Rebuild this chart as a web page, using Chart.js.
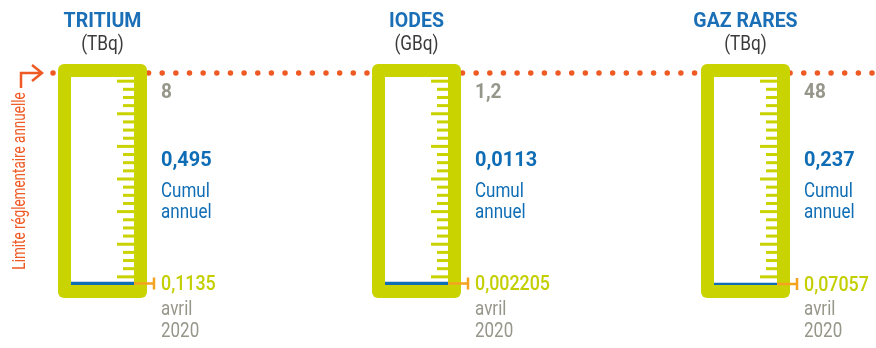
<!DOCTYPE html>
<html>
<head>
<meta charset="utf-8">
<script src="https://cdn.jsdelivr.net/npm/chart.js@4.4.1/dist/chart.umd.min.js"></script>
<style>
  body { margin: 0; background: #fff; }
  #wrap { position: relative; width: 876px; height: 348px; overflow: hidden; }
  #wrap canvas { position: absolute; top: 0; }
</style>
</head>
<body>
<div id="wrap">
  <canvas id="g0" width="300" height="348" style="left:0px"></canvas>
  <canvas id="g1" width="340" height="348" style="left:300px"></canvas>
  <canvas id="g2" width="236" height="348" style="left:640px"></canvas>
</div>
<script>
// --- data ---
const gauges = ['TRITIUM', 'IODES', 'GAZ RARES'];
const units = ['(TBq)', '(GBq)', '(TBq)'];
const limits = [8, 1.2, 48];
const cumulValues = [0.495, 0.0113, 0.237];
const aprilValues = [0.1135, 0.002205, 0.07057];
const cumulLabel = ['Cumul', 'annuel'];
const periodLabel = ['avril', '2020'];
const limitLabel = 'Limite réglementaire annuelle';
const rulerSteps = 26;

// --- layout / styles ---
const boxes = [
  { left: 0, pad: { left: 71, right: 166 }, minBar: 3 },
  { left: 300, pad: { left: 85, right: 192 }, minBar: 3 },
  { left: 640, pad: { left: 74, right: 99 }, minBar: 2 }
];
const FRAME = '#c9d300';
const BLUE = '#0f6db5';
const RED = '#ef5a24';
const ORANGE = '#f5a21e';
const GRAY = '#96968a';
const DARK = '#3a3a3a';
const FONT = 'Roboto, "Open Sans", sans-serif';

function fmt(v) { return String(v).replace('.', ','); }

function txt(ctx, s, x, y, font, color, align, sx) {
  ctx.save();
  ctx.font = font;
  ctx.fillStyle = color;
  ctx.textAlign = align || 'left';
  ctx.textBaseline = 'alphabetic';
  ctx.translate(x, y);
  ctx.scale(sx || 1, 1);
  ctx.fillText(s, 0, 0);
  ctx.restore();
}

const gaugePlugin = {
  id: 'gauge',
  beforeDatasetsDraw(chart) {
    const { ctx, chartArea: a, scales: { y } } = chart;
    const i = chart.options.plugins.gauge.index;
    const T = y.getPixelForValue(limits[i]);
    const B = y.getPixelForValue(0);

    // dotted limit line
    ctx.save();
    ctx.strokeStyle = RED;
    ctx.lineWidth = 5.5;
    ctx.lineCap = 'round';
    ctx.setLineDash([0, 13.65]);
    ctx.beginPath();
    ctx.moveTo(53 - boxes[i].left, T);
    ctx.lineTo(chart.width + 6, T);
    ctx.stroke();
    ctx.restore();

    // frame
    ctx.save();
    ctx.fillStyle = FRAME;
    ctx.beginPath();
    ctx.roundRect(a.left - 13, T - 9, a.right - a.left + 26, B + 13 - (T - 9), 6);
    ctx.fill();
    ctx.fillStyle = '#fff';
    ctx.fillRect(a.left, T + 4, a.right - a.left, B - T - 4);

    // ruler ticks
    ctx.fillStyle = FRAME;
    for (let k = 1; k < rulerSteps; k++) {
      const py = y.getPixelForValue(limits[i] * k / rulerSteps);
      const len = (k - 1) % 4 === 0 ? 17 : 11;
      ctx.fillRect(a.right - len, py - 1.5, len, 3);
    }
    ctx.restore();
  },
  afterDatasetsDraw(chart) {
    const { ctx, chartArea: a, scales: { y } } = chart;
    const i = chart.options.plugins.gauge.index;
    const T = y.getPixelForValue(limits[i]);
    const B = y.getPixelForValue(0);
    const bar = chart.getDatasetMeta(0).data[0];
    const my = (bar.y + bar.base) / 2;
    const cx = (a.left + a.right) / 2;
    const tx = a.right + 27;

    // orange marker on the monthly value
    ctx.save();
    ctx.strokeStyle = ORANGE;
    ctx.lineWidth = 2.5;
    ctx.beginPath();
    ctx.moveTo(a.right, my);
    ctx.lineTo(a.right + 20, my);
    ctx.moveTo(a.right + 20, my - 6);
    ctx.lineTo(a.right + 20, my + 6);
    ctx.stroke();
    ctx.restore();

    // titles
    txt(ctx, gauges[i], cx, T - 46, 'bold 21px ' + FONT, '#1a6fb6', 'center', 0.93);
    txt(ctx, units[i], cx, T - 23, '20px ' + FONT, DARK, 'center', 0.86);

    // right labels
    txt(ctx, fmt(limits[i]), tx, T + 25, 'bold 20px ' + FONT, GRAY, 'left', 0.95);
    txt(ctx, fmt(cumulValues[i]), tx, T + 93, 'bold 21px ' + FONT, BLUE, 'left', 0.95);
    txt(ctx, cumulLabel[0], tx, T + 124, '21px ' + FONT, BLUE, 'left', 0.81);
    txt(ctx, cumulLabel[1], tx, T + 145, '21px ' + FONT, BLUE, 'left', 0.81);
    txt(ctx, fmt(aprilValues[i]), tx, my + 6.5, '500 21px ' + FONT, '#c3cf00', 'left', 0.85);
    txt(ctx, periodLabel[0], tx, B + 30, '21px ' + FONT, GRAY, 'left', 0.81);
    txt(ctx, periodLabel[1], tx, B + 52, '21px ' + FONT, GRAY, 'left', 0.81);

    // arrow + rotated label on the first gauge only
    if (i === 0) {
      const l = a.left;
      ctx.save();
      ctx.strokeStyle = RED;
      ctx.lineWidth = 2.5;
      ctx.beginPath();
      ctx.moveTo(l - 50, T + 15);
      ctx.lineTo(l - 50, T);
      ctx.lineTo(l - 29, T);
      ctx.moveTo(l - 39, T - 8);
      ctx.lineTo(l - 29, T);
      ctx.lineTo(l - 39, T + 8);
      ctx.stroke();
      ctx.translate(l - 46.5, (T + B) / 2 + 2);
      ctx.rotate(-Math.PI / 2);
      ctx.scale(0.75, 1);
      ctx.font = '18px ' + FONT;
      ctx.fillStyle = RED;
      ctx.textAlign = 'center';
      ctx.fillText(limitLabel, 0, 0);
      ctx.restore();
    }
  }
};

gauges.forEach(function(name, i) {
  new Chart(document.getElementById('g' + i), {
    type: 'bar',
    data: {
      labels: [name],
      datasets: [{
        data: [aprilValues[i]],
        backgroundColor: BLUE,
        barPercentage: 1,
        categoryPercentage: 1,
        minBarLength: boxes[i].minBar
      }]
    },
    options: {
      responsive: false,
      animation: false,
      devicePixelRatio: 1,
      layout: { padding: { left: boxes[i].pad.left, right: boxes[i].pad.right, top: 73, bottom: 63 } },
      plugins: { legend: { display: false }, tooltip: { enabled: false }, gauge: { index: i } },
      scales: {
        x: { display: false },
        y: { display: false, min: 0, max: limits[i] }
      }
    },
    plugins: [gaugePlugin]
  });
});
</script>
</body>
</html>
